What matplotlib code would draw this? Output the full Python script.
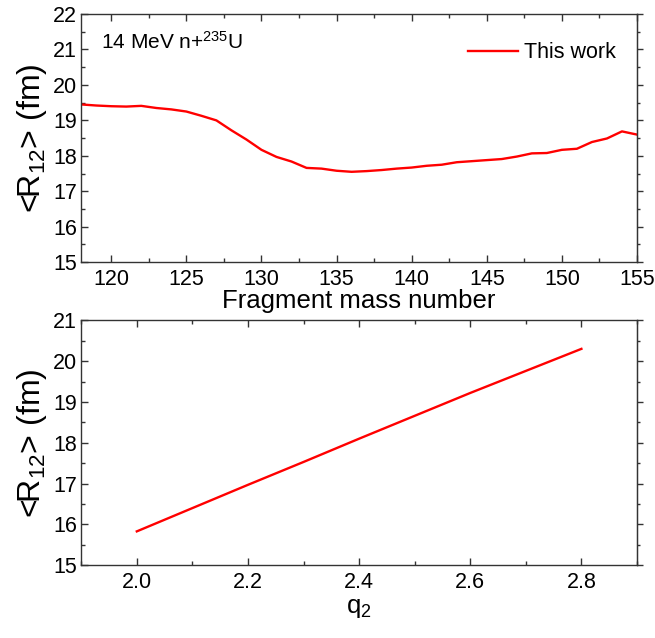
import matplotlib
matplotlib.use("Agg")
import matplotlib.pyplot as plt
from matplotlib.ticker import MultipleLocator, FormatStrFormatter

plt.rcParams['font.family'] = ['Liberation Sans', 'DejaVu Sans']
plt.rcParams['mathtext.fontset'] = 'custom'
plt.rcParams['mathtext.rm'] = 'Liberation Sans'
plt.rcParams['mathtext.it'] = 'Liberation Sans'
plt.rcParams['mathtext.default'] = 'regular'

# Top panel: <R12> vs fragment mass number
mass_number = [118, 119, 120, 121, 122, 123, 124, 125, 126, 127, 128, 129, 130,
               131, 132, 133, 134, 135, 136, 137, 138, 139, 140, 141, 142, 143,
               144, 145, 146, 147, 148, 149, 150, 151, 152, 153, 154, 155]
r12_mass = [19.45, 19.42, 19.40, 19.39, 19.41, 19.35, 19.31, 19.25, 19.13, 19.00,
            18.72, 18.46, 18.17, 17.97, 17.84, 17.66, 17.64, 17.58, 17.55, 17.57,
            17.60, 17.64, 17.67, 17.72, 17.75, 17.82, 17.85, 17.88, 17.91, 17.98,
            18.07, 18.08, 18.17, 18.20, 18.39, 18.49, 18.69, 18.60]

# Bottom panel: <R12> vs q2
q2 = [2.0, 2.1, 2.2, 2.3, 2.4, 2.5, 2.6, 2.7, 2.8]
r12_q2 = [15.83, 16.40, 16.97, 17.53, 18.10, 18.66, 19.22, 19.76, 20.30]

series_label = "This work"
annotation = r"14 MeV n+$^{235}$U"

fig = plt.figure(figsize=(6.55, 6.38), dpi=100)
ax1 = fig.add_axes([0.124, 0.589, 0.8485, 0.389])
ax2 = fig.add_axes([0.124, 0.114, 0.8485, 0.384])

red = '#ff0000'
ax1.plot(mass_number, r12_mass, color=red, lw=1.7, label=series_label)
ax2.plot(q2, r12_q2, color=red, lw=1.7)

ax1.set_xlim(118, 155)
ax1.set_ylim(15, 22)
ax1.xaxis.set_major_locator(MultipleLocator(5))
ax1.xaxis.set_minor_locator(MultipleLocator(2.5))
ax1.yaxis.set_major_locator(MultipleLocator(1))
ax1.yaxis.set_minor_locator(MultipleLocator(0.5))

ax2.set_xlim(1.9, 2.9)
ax2.set_ylim(15, 21)
ax2.set_xticks([2.0, 2.2, 2.4, 2.6, 2.8])
ax2.xaxis.set_minor_locator(MultipleLocator(0.1))
ax2.xaxis.set_major_formatter(FormatStrFormatter('%.1f'))
ax2.yaxis.set_major_locator(MultipleLocator(1))
ax2.yaxis.set_minor_locator(MultipleLocator(0.5))

frame_col = '#333333'
for ax in (ax1, ax2):
    for s in ax.spines.values():
        s.set_color(frame_col)
        s.set_linewidth(1.0)
    ax.tick_params(axis='both', which='both', direction='in', top=True, right=False,
                   labelsize=15.5, color=frame_col, width=1.0)
    ax.tick_params(which='major', length=5)
    ax.tick_params(which='minor', length=3)
    ax.tick_params(axis='x', pad=5)
    ax.tick_params(axis='y', pad=3)
    ax.set_ylabel(r"<R$_{12}$> (fm)", fontsize=23, labelpad=3)
    # right-hand ticks point outward
    sec = ax.secondary_yaxis('right')
    sec.yaxis.set_major_locator(MultipleLocator(1))
    sec.yaxis.set_minor_locator(MultipleLocator(0.5))
    sec.tick_params(which='both', direction='out', labelright=False,
                    color=frame_col, width=1.0)
    sec.tick_params(which='major', length=4)
    sec.tick_params(which='minor', length=2.5)
    sec.spines['right'].set_color(frame_col)

ax1.set_xlabel("Fragment mass number", fontsize=18.5, labelpad=-1)
ax2.set_xlabel(r"q$_2$", fontsize=18.5, labelpad=2)

ax1.text(0.036, 0.886, annotation, transform=ax1.transAxes, fontsize=15,
         va='center', ha='left')
ax1.legend(loc='center right', bbox_to_anchor=(0.962, 0.844), frameon=False,
           fontsize=15.5, handlelength=2.3, handletextpad=0.3, borderaxespad=0,
           borderpad=0)

fig.savefig("out.png", dpi=100)
